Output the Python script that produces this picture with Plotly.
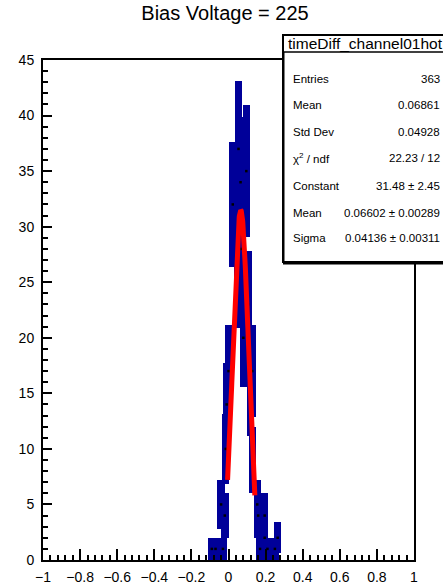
import numpy as np
import plotly.graph_objects as go

# ---- data ----
# error-box centres (x) and bin contents (counts); box spans content +/- sqrt(content)
box_x = [-0.09, -0.07, -0.04, -0.03, -0.02, -0.015, -0.01, 0.0, 0.023, 0.047, 0.054,
         0.065, 0.07, 0.08, 0.096, 0.105, 0.12, 0.128, 0.13, 0.155, 0.16, 0.17,
         0.195, 0.195, 0.21, 0.25, 0.265]
box_n = [1, 1, 5, 1, 4, 10, 14, 17, 32, 26, 37,
         34, 28, 20, 35, 23, 15, 17, 9, 5, 4, 1,
         4, 2, 1, 1, 2]
box_width = 0.04

# Gaussian fit parameters (from the stats box) and fit range
fit_const, fit_mean, fit_sigma = 31.48, 0.06602, 0.04136
fit_range = (-0.005, 0.142)

stats_title = "timeDiff_channel01hot"
stats_labels = ["Entries", "Mean", "Std Dev", "χ<sup>2</sup> / ndf", "Constant", "Mean", "Sigma"]
stats_values = ["363", "0.06861", "0.04928", "22.23 / 12", "31.48 ± 2.45",
                "0.06602 ± 0.00289", "0.04136 ± 0.00311"]

x_ticks = [-1, -0.8, -0.6, -0.4, -0.2, 0, 0.2, 0.4, 0.6, 0.8, 1]
x_ticktext = ["−1", "−0.8", "−0.6", "−0.4", "−0.2", "0", "0.2", "0.4", "0.6", "0.8", "1"]

# ---- figure ----
n = np.array(box_n, dtype=float)
err = np.sqrt(n)

fig = go.Figure()
fig.add_trace(go.Bar(x=box_x, y=2 * err, base=n - err, width=box_width,
                     marker=dict(color="#000099", line=dict(width=0)),
                     hoverinfo="skip", showlegend=False))
fig.add_trace(go.Scatter(x=box_x, y=box_n, mode="markers",
                         marker=dict(color="black", size=2.5, symbol="square"),
                         showlegend=False, hoverinfo="skip"))

xf = np.linspace(fit_range[0], fit_range[1], 200)
yf = fit_const * np.exp(-0.5 * ((xf - fit_mean) / fit_sigma) ** 2)
fig.add_trace(go.Scatter(x=xf, y=yf, mode="lines",
                         line=dict(color="#ff0000", width=5),
                         showlegend=False, hoverinfo="skip"))

FONT = "Liberation Sans, Arial, Helvetica, sans-serif"

W, H = 443, 588
fig.update_layout(
    width=W, height=H,
    margin=dict(l=43, r=29, t=60, b=28, autoexpand=False),
    paper_bgcolor="white", plot_bgcolor="white",
    barmode="overlay", bargap=0,
    font=dict(family=FONT, color="black", size=14),
    title=dict(text="Bias Voltage = 225", x=225 / W, xref="container", xanchor="center",
               y=1 - 13 / H, yref="container", yanchor="middle",
               font=dict(size=20, family=FONT, color="black")),
    xaxis=dict(range=[-1, 1], tickvals=x_ticks, ticktext=x_ticktext,
               ticks="inside", ticklen=11, tickwidth=1.5, tickcolor="black",
               minor=dict(dtick=0.04, tick0=-1, ticks="inside", ticklen=5,
                          tickwidth=1.5, tickcolor="black"),
               showline=True, linecolor="black", linewidth=2, mirror=True,
               showgrid=False, zeroline=False, ticklabelstandoff=3,
               tickfont=dict(size=14, family=FONT)),
    yaxis=dict(range=[0, 45], dtick=5, tick0=0,
               ticks="inside", ticklen=9, tickwidth=1.5, tickcolor="black",
               minor=dict(dtick=1, ticks="inside", ticklen=5,
                          tickwidth=1.5, tickcolor="black"),
               showline=True, linecolor="black", linewidth=2, mirror=True,
               showgrid=False, zeroline=False, ticklabelstandoff=4,
               tickfont=dict(size=14, family=FONT)),
)

# ---- stats box (paper coordinates, window pixels -> paper) ----
def px2x(px):
    return (px - 43) / 371.0

def py2y(py):
    return (560.0 - py) / 500.0

bx0, bx1 = px2x(283), px2x(450)
by0, by1 = py2y(262), py2y(35)
fig.add_shape(type="rect", xref="paper", yref="paper", x0=bx0, x1=bx1, y0=by0, y1=by1,
              fillcolor="white", line=dict(color="black", width=2), layer="above")
fig.add_shape(type="line", xref="paper", yref="paper", x0=bx0, x1=bx1, y0=py2y(263.5), y1=py2y(263.5),
              line=dict(color="black", width=2), layer="above")
fig.add_shape(type="line", xref="paper", yref="paper", x0=px2x(283.5), x1=px2x(283.5),
              y0=by0, y1=py2y(52), line=dict(color="black", width=2), layer="above")
fig.add_shape(type="line", xref="paper", yref="paper", x0=bx0, x1=bx1, y0=py2y(52), y1=py2y(52),
              line=dict(color="black", width=1.5), layer="above")

fig.add_annotation(xref="paper", yref="paper", x=px2x(286), y=py2y(44), text=stats_title,
                   showarrow=False, xanchor="left", yanchor="middle",
                   font=dict(size=15.5, family=FONT, color="black"))
row_py = [79, 105, 132, 158, 186, 213, 238]
for lab, val, py in zip(stats_labels, stats_values, row_py):
    fig.add_annotation(xref="paper", yref="paper", x=px2x(291), y=py2y(py), text=lab,
                       showarrow=False, xanchor="left", yanchor="middle",
                       font=dict(size=11.5, family=FONT, color="black"))
    fig.add_annotation(xref="paper", yref="paper", x=px2x(442), y=py2y(py), text=val,
                       showarrow=False, xanchor="right", yanchor="middle",
                       font=dict(size=11.5, family=FONT, color="black"))

fig.write_html("out.html", config={"displayModeBar": False},
               post_script="document.body.style.margin='0';document.body.style.overflow='hidden';")
